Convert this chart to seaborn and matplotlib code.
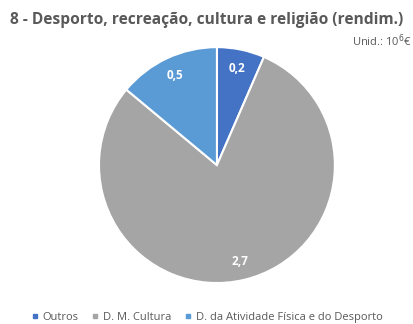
import matplotlib
matplotlib.use("Agg")
import matplotlib.pyplot as plt
import seaborn as sns
from matplotlib.lines import Line2D

categories = ["Outros", "D. M. Cultura", "D. da Atividade Física e do Desporto"]
values = [0.22, 2.68, 0.47]
colors = ["#4472C4", "#A5A5A5", "#5B9BD5"]
title = "8 - Desporto, recreação, cultura e religião (rendim.)"
unit = "Unid.: 10$^6$€"

sns.set_theme(style="white")
plt.rcParams["font.family"] = ["Open Sans", "DejaVu Sans"]
palette = sns.color_palette(colors)

fig = plt.figure(figsize=(4.14, 3.24), dpi=100)
ax = fig.add_axes([0.239, 0.1265, 0.570, 0.728])

wedges, texts, autotexts = ax.pie(
    values,
    colors=palette,
    startangle=90,
    counterclock=False,
    autopct=lambda p: f"{p * sum(values) / 100:.1f}".replace(".", ","),
    pctdistance=0.84,
    wedgeprops=dict(edgecolor="white", linewidth=1.5),
    textprops=dict(color="white", fontsize=8.5, fontweight="bold"),
)
ax.set_xlim(-1, 1)
ax.set_ylim(-1, 1)
ax.set_aspect("equal")

fig.text(0.5, 0.938, title, ha="center", va="center", fontsize=11.2,
         fontweight="bold", color="#595959")
fig.text(0.995, 0.873, unit, ha="right", va="center", fontsize=8, color="#595959")

handles = [Line2D([0], [0], marker="s", linestyle="", markersize=3.5,
                  markerfacecolor=c, markeredgecolor=c) for c in palette]
fig.legend(handles, categories, loc="center", bbox_to_anchor=(0.5, 0.02),
           ncol=3, frameon=False, fontsize=8, labelcolor="#595959",
           handlelength=0.6, handletextpad=0.4, columnspacing=1.2)

fig.savefig("out.png", dpi=100, facecolor="white")
